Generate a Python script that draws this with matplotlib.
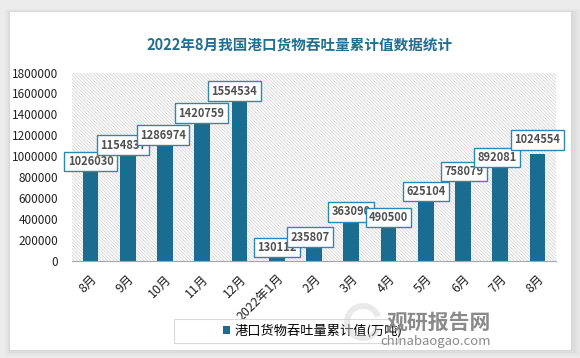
import matplotlib.pyplot as plt
import matplotlib.patches as mpatches
import matplotlib.transforms as mtransforms
import numpy as np

plt.rcParams['font.family'] = ['Noto Sans CJK SC', 'DejaVu Sans']
plt.rcParams['hatch.linewidth'] = 0.5

months = ["8月", "9月", "10月", "11月", "12月", "2022年1月", "2月",
          "3月", "4月", "5月", "6月", "7月", "8月"]
values = [1026030, 1154837, 1286974, 1420759, 1554534, 130112, 235807,
          363090, 490500, 625104, 758079, 892081, 1024554]
series_name = "港口货物吞吐量累计值(万吨)"
title = "2022年8月我国港口货物吞吐量累计值数据统计"

# data label nudges in pixels, as placed in the original
label_dx = [0, -5, -2, -1, -5, 0, -4, 0, 0, 0, 1, -3, 0]
label_dy = [-8, -5, -9, -1, 7, 0, -1, 11, -8, 4, 10, 10, 14]

bar_color = "#1b6c91"
box_edge = "#2e86b3"

fig = plt.figure(figsize=(5.8, 3.58), dpi=100)
fig.patch.set_facecolor("#ececec")

# white card with a soft shadow
for i, a in enumerate([0.05, 0.05, 0.06, 0.08]):
    off = (4 - i) * 0.004
    fig.patches.append(mpatches.Rectangle(
        (10 / 580 - off * 0.5, 8 / 358 - off), 561 / 580 + off * 1.5, 338 / 358 + off * 1.5,
        transform=fig.transFigure, facecolor="#9a9a9a", edgecolor="none", alpha=a, zorder=-2))
fig.patches.append(mpatches.Rectangle(
    (10 / 580, 8 / 358), 561 / 580, 338 / 358,
    transform=fig.transFigure, facecolor="white", edgecolor="none", zorder=-1))

ax = fig.add_axes([72 / 580, 1 - 261 / 358, 484 / 580, 188.5 / 358])
ax.set_zorder(1)
ax.patch.set_facecolor("white")
ax.patch.set_hatch("\\" * 10)
ax.patch.set_edgecolor("#cdcdcd")
ax.patch.set_linewidth(0)

x = np.arange(len(months))
bars = ax.bar(x, values, width=0.42, color=bar_color, zorder=2,
              label=series_name)

ax.set_xlim(-0.5, len(months) - 0.5)
ax.set_ylim(0, 1800000)
ax.set_yticks(np.arange(0, 1800001, 200000))
ax.set_yticklabels([f"{v:d}" for v in range(0, 1800001, 200000)],
                   fontsize=8.5, color="#222222")
ax.set_xticks(x)
ax.set_xticklabels(months, rotation=45, ha="right", rotation_mode="anchor",
                   fontsize=9, color="#222222")
ax.tick_params(axis="y", length=0, pad=10)
ax.tick_params(axis="x", length=0, pad=8)
for s in ["top", "right", "left"]:
    ax.spines[s].set_visible(False)
ax.spines["bottom"].set_color("#a6a6a6")
ax.spines["bottom"].set_zorder(3)

for xi, v, dx, dy in zip(x, values, label_dx, label_dy):
    ax.annotate(f"{v}", (xi, v), xytext=(dx, dy), textcoords="offset pixels",
                ha="center", va="center", fontsize=8, color="#505050",
                fontweight="bold", zorder=5,
                bbox=dict(boxstyle="square,pad=0.3", facecolor="white",
                          edgecolor=box_edge, linewidth=1.0))

fig.text(300 / 580, 1 - 46 / 358, title, ha="center", va="center",
         fontsize=10.5, fontweight="bold", color="#236f8f")

# legend: frame drawn separately to match the wide box of the original
fig.patches.append(mpatches.Rectangle(
    (174 / 580, 1 - 343 / 358), 224 / 580, 24 / 358,
    transform=fig.transFigure, facecolor="white", edgecolor="#d9d9d9",
    linewidth=0.8, zorder=2))
leg = fig.legend(handles=[bars], labels=[series_name], loc="center left",
                 bbox_to_anchor=(214 / 580, 1 - 331 / 358), fontsize=9.5,
                 frameon=False, handlelength=0.5, handleheight=0.5,
                 handletextpad=0.35, borderpad=0.2)
leg.set_zorder(3)

# watermark
ring = mpatches.Wedge((363, 358 - 322), 19, 20, 340, width=6,
                      transform=mtransforms.IdentityTransform(),
                      facecolor="#d0d0d0", edgecolor="none", alpha=0.45, zorder=4)
fig.patches.append(ring)
fig.text(439 / 580, 1 - 322 / 358, "观研报告网", ha="center", va="center",
         fontsize=15, fontweight="bold", color="#8a8a8a", zorder=5)
fig.text(436 / 580, 1 - 341 / 358, "chinabaogao.com", ha="center", va="center",
         fontsize=9.5, color="#8a8a8a", zorder=5)

fig.savefig("out.png", dpi=100, facecolor=fig.get_facecolor())
